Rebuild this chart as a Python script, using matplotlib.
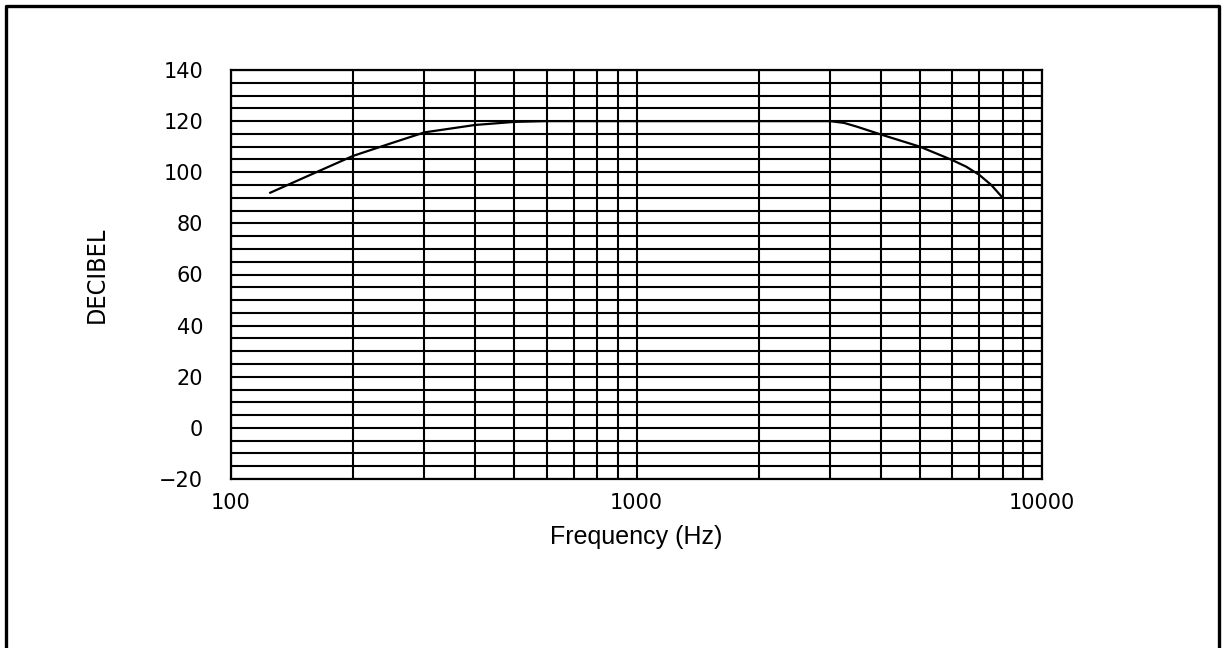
import matplotlib

matplotlib.use("Agg")
import matplotlib.pyplot as plt
from matplotlib.lines import Line2D
from matplotlib.ticker import FixedLocator, NullFormatter

# frequency response
freq_hz = [125, 150, 200, 250, 300, 400, 500, 600, 1000, 2000, 3000, 3250,
           3500, 4000, 5000, 6000, 6500, 7000, 7500, 8000]
level_db = [92, 97.6, 106.4, 111.5, 115.6, 118.5, 119.7, 120, 120, 120, 120, 119.3,
            117.8, 114.8, 110, 104.8, 102.2, 99, 95, 90]

y_ticks = [-20, 0, 20, 40, 60, 80, 100, 120, 140]
y_labels = ["\u221220", "0", "20", "40", "60", "80", "100", "120", "140"]
x_ticks = [100, 1000, 10000]
x_labels = ["100", "1000", "10000"]

W, H = 1222, 648
fig = plt.figure(figsize=(W / 100, H / 100), dpi=100)
ax = fig.add_axes([231 / W, 1 - 479 / H, (1042 - 231) / W, (479 - 70) / H])

ax.set_xscale("log")
ax.set_xlim(100, 10000)
ax.set_ylim(-20, 140)

# full decade grid and 5 dB lines
minor_x = [m * d for d in (100, 1000) for m in range(2, 10)]
ax.xaxis.set_minor_locator(FixedLocator(minor_x))
ax.xaxis.set_minor_formatter(NullFormatter())
ax.yaxis.set_minor_locator(FixedLocator(list(range(-20, 141, 5))))
ax.grid(True, which="both", color="black", linewidth=1.5)
ax.set_axisbelow(True)

ax.plot(freq_hz, level_db, color="black", linewidth=1.6, zorder=5)

ax.set_xticks(x_ticks)
ax.set_xticklabels(x_labels)
ax.set_yticks(y_ticks)
ax.set_yticklabels(y_labels)
ax.tick_params(which="both", length=0)
ax.tick_params(axis="y", pad=20, labelsize=15)
ax.tick_params(axis="x", pad=10, labelsize=15)
for lab in ax.get_xticklabels() + ax.get_yticklabels():
    lab.set_family("DejaVu Sans")

for sp in ax.spines.values():
    sp.set_linewidth(1.6)

ax.set_xlabel("Frequency (Hz)", family="Liberation Sans", fontsize=18, labelpad=9)
ax.set_ylabel("DECIBEL", family="DejaVu Sans", fontstretch="condensed",
              fontsize=18, labelpad=36)

# page frame (open at the bottom)
frame_x = [5.5 / W, 5.5 / W, 1219 / W, 1219 / W]
frame_y = [0, 1 - 5.5 / H, 1 - 5.5 / H, 0]
fig.add_artist(Line2D(frame_x, frame_y, transform=fig.transFigure,
                      color="black", linewidth=2.4))

fig.savefig("out.png", dpi=100)
